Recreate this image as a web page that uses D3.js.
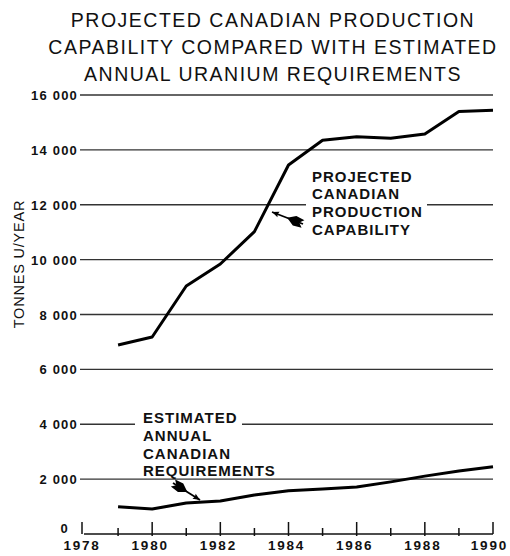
<!DOCTYPE html>
<html>
<head>
<meta charset="utf-8">
<script src="https://cdn.jsdelivr.net/npm/d3@7"></script>
<style>
  body { margin: 0; background: #fff; }
  text { font-family: "Liberation Sans", Arial, sans-serif; fill: #111; }
</style>
</head>
<body>
<svg id="chart" width="510" height="556"></svg>
<script>
// chart data
var years = [1979, 1980, 1981, 1982, 1983, 1984, 1985, 1986, 1987, 1988, 1989, 1990];
var production = [6890, 7180, 9040, 9840, 11020, 13450, 14350, 14480, 14420, 14580, 15400, 15440];
var requirements = [990, 910, 1130, 1200, 1420, 1580, 1640, 1710, 1900, 2110, 2300, 2450];
var yTicks = [0, 2000, 4000, 6000, 8000, 10000, 12000, 14000, 16000];
var xTicks = [1978, 1980, 1982, 1984, 1986, 1988, 1990];
var titleLines = ["PROJECTED CANADIAN PRODUCTION",
                  "CAPABILITY COMPARED WITH ESTIMATED",
                  "ANNUAL URANIUM REQUIREMENTS"];
var prodLabel = ["PROJECTED", "CANADIAN", "PRODUCTION", "CAPABILITY"];
var reqLabel = ["ESTIMATED", "ANNUAL", "CANADIAN", "REQUIREMENTS"];

var svg = d3.select("#chart");

var x = d3.scaleLinear().domain([1978, 1990]).range([84, 493]);
var y = d3.scaleLinear().domain([0, 16000]).range([534, 95]);

var fmt = function(d) { return d === 0 ? "0" : d3.format(",")(d).replace(",", " "); };

// title
svg.append("g").selectAll("text")
    .data(titleLines)
    .enter()
    .append("text")
    .attr("x", 273)
    .attr("y", function(d, i) { return 27 + i * 27; })
    .attr("text-anchor", "middle")
    .attr("font-size", 19.5)
    .attr("letter-spacing", 1.5)
    .text(function(d) { return d; });

// gridlines
svg.append("g").selectAll("line")
    .data(yTicks.filter(function(d) { return d > 0; }))
    .enter()
    .append("line")
    .attr("x1", 80)
    .attr("x2", x(1990))
    .attr("y1", function(d) { return y(d); })
    .attr("y2", function(d) { return y(d); })
    .attr("stroke", "#333")
    .attr("stroke-width", 1.3);

// y tick labels
svg.append("g").selectAll("text")
    .data(yTicks)
    .enter()
    .append("text")
    .attr("x", function(d) { return d === 0 ? 69 : 78; })
    .attr("y", function(d) { return d === 0 ? y(d) - 1 : y(d) + 5; })
    .attr("text-anchor", "end")
    .attr("font-size", 13)
    .attr("font-weight", "bold")
    .attr("letter-spacing", 1.2)
    .text(fmt);

// y axis title
svg.append("text")
    .attr("transform", "translate(24,264) rotate(-90)")
    .attr("text-anchor", "middle")
    .attr("font-size", 14.5)
    .attr("letter-spacing", 0.8)
    .text("TONNES U/YEAR");

// x axis
var xAxis = svg.append("g");
xAxis.append("line")
    .attr("x1", x(1978)).attr("x2", x(1990))
    .attr("y1", y(0)).attr("y2", y(0))
    .attr("stroke", "#111").attr("stroke-width", 1.5);
xAxis.append("line")
    .attr("x1", x(1978) - 2).attr("x2", x(1978) - 2)
    .attr("y1", y(0) - 12).attr("y2", y(0))
    .attr("stroke", "#111").attr("stroke-width", 1.5);
xAxis.selectAll(".tick")
    .data(d3.range(1979, 1991))
    .enter()
    .append("line")
    .attr("class", "tick")
    .attr("x1", function(d) { return x(d); })
    .attr("x2", function(d) { return x(d); })
    .attr("y1", function(d) { return d % 2 === 0 ? y(0) - 12 : y(0) - 6; })
    .attr("y2", function(d) { return d === 1990 ? y(0) : y(0) + 2; })
    .attr("stroke", "#111")
    .attr("stroke-width", 1.5);
xAxis.selectAll("text")
    .data(xTicks)
    .enter()
    .append("text")
    .attr("x", function(d) { return d === 1990 ? 508 : x(d) - 2; })
    .attr("y", 550)
    .attr("text-anchor", function(d) { return d === 1990 ? "end" : "middle"; })
    .attr("font-size", 13.5)
    .attr("font-weight", "bold")
    .attr("letter-spacing", 1.8)
    .text(function(d) { return d; });

// white boxes behind the annotations break the gridlines
svg.append("rect").attr("x", 306).attr("y", 196).attr("width", 121).attr("height", 18).attr("fill", "#fff");
svg.append("rect").attr("x", 135).attr("y", 418).attr("width", 107).attr("height", 10).attr("fill", "#fff");

var line = d3.line()
    .x(function(d, i) { return x(years[i]); })
    .y(function(d) { return y(d); });

svg.append("path")
    .datum(production)
    .attr("d", line)
    .attr("fill", "none")
    .attr("stroke", "#000")
    .attr("stroke-width", 3)
    .attr("stroke-linejoin", "round");

svg.append("path")
    .datum(requirements)
    .attr("d", line)
    .attr("fill", "none")
    .attr("stroke", "#000")
    .attr("stroke-width", 3)
    .attr("stroke-linejoin", "round");

// annotation labels
function label(lines, lx, ly) {
    svg.append("g").selectAll("text")
        .data(lines)
        .enter()
        .append("text")
        .attr("x", lx)
        .attr("y", function(d, i) { return ly + i * 17.8; })
        .attr("font-size", 15)
        .attr("font-weight", "bold")
        .attr("letter-spacing", 1)
        .text(function(d) { return d; });
}
label(prodLabel, 312, 181.5);
label(reqLabel, 143, 423);

// pointer arrows: thin shaft with a head at the curve and a heavy feather near the text
function pointer(x0, y0, x1, y1) {
    var a = Math.atan2(y1 - y0, x1 - x0);
    var g = svg.append("g").attr("transform", "translate(" + x1 + "," + y1 + ") rotate(" + (a * 180 / Math.PI) + ")");
    var len = Math.sqrt((x1 - x0) * (x1 - x0) + (y1 - y0) * (y1 - y0));
    g.append("line").attr("x1", -len).attr("x2", 0).attr("y1", 0).attr("y2", 0)
        .attr("stroke", "#000").attr("stroke-width", 1.8);
    g.append("path").attr("d", "M0,0 L-7,-3 L-6,0 L-7,3 Z").attr("fill", "#000");
    g.append("path")
        .attr("d", "M" + (-len + 17) + ",0 L" + (-len + 9) + ",-5 L" + (-len) + ",-4 L" + (-len + 4) + ",0 L" + (-len) + ",4 L" + (-len + 9) + ",5 Z")
        .attr("fill", "#000");
}
pointer(303, 224, 272, 212);
pointer(173, 483, 200, 500);
</script>
</body>
</html>
